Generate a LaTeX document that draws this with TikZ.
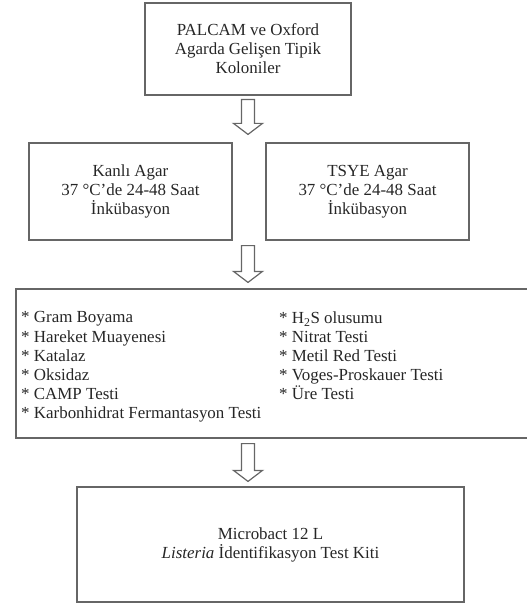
\documentclass[tikz,border=0pt]{standalone}
\usepackage{fontspec}
\setmainfont{Liberation Serif}
\usetikzlibrary{calc}

\begin{document}
\begin{tikzpicture}[x=1bp, y=-1bp,
  box/.style={draw=black!60, line width=1.2bp, inner sep=0pt, align=center, text=black!85, font=\fontsize{17}{19}\selectfont},
  testlist/.style={align=left, inner sep=0pt, anchor=north west, text=black!85, font=\fontsize{17}{19.2}\selectfont},
  hollow/.style={draw=black!60, line width=1.2bp, line join=miter, to path={
    ($(\tikztostart)+(-6.5,0)$) -- ($(\tikztotarget)+(-6.5,-11)$) -- ($(\tikztotarget)+(-14.5,-11)$) -- (\tikztotarget)
    -- ($(\tikztotarget)+(14.5,-11)$) -- ($(\tikztotarget)+(6.5,-11)$) -- ($(\tikztostart)+(6.5,0)$) -- cycle}}]

\useasboundingbox (0, 0) rectangle (527, 603);

\node[box, minimum width=206bp, minimum height=92bp] (colonies) at (248, 49) {PALCAM ve Oxford\\Agarda Gelişen Tipik\\Koloniler};

\node[box, minimum width=203bp, minimum height=97bp] (blood) at (130.5, 191.5) {Kanlı Agar\\37 °C’de 24-48 Saat\\İnkübasyon};
\node[box, minimum width=203bp, minimum height=97bp] (tsye) at (367.5, 191.5) {TSYE Agar\\37 °C’de 24-48 Saat\\İnkübasyon};

\node[box, minimum width=514bp, minimum height=149bp] (tests) at (273, 363.5) {};
\node[testlist] (tests left) at (21, 311.5) {* Gram Boyama\\* Hareket Muayenesi\\* Katalaz\\* Oksidaz\\* CAMP Testi\\* Karbonhidrat Fermantasyon Testi};
\node[testlist] (tests right) at (279, 311.5) {* H\textsubscript{2}S olusumu\\* Nitrat Testi\\* Metil Red Testi\\* Voges-Proskauer Testi\\* Üre Testi};

\node[box, minimum width=387bp, minimum height=115bp] (kit) at (270.5, 544.5) {Microbact 12 L\\\textit{Listeria} İdentifikasyon Test Kiti};

% hollow arrows between the steps
\draw[hollow] ($(colonies.south)+(0,4)$) to ($(colonies.south |- blood.north)+(0,-8)$);
\draw[hollow] ($(colonies.south |- blood.south)+(0,5)$) to ($(colonies.south |- tests.north)+(0,-6)$);
\draw[hollow] ($(colonies.south |- tests.south)+(0,5)$) to ($(colonies.south |- kit.north)+(0,-5)$);

\end{tikzpicture}
\end{document}
